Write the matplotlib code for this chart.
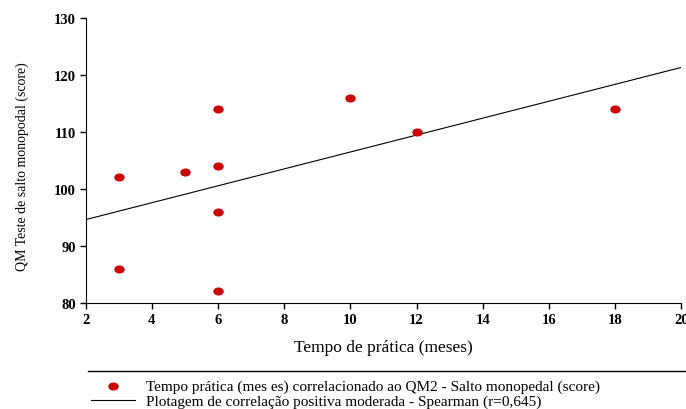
import matplotlib.pyplot as plt
from matplotlib.lines import Line2D
from matplotlib.path import Path
from matplotlib.transforms import Affine2D

plt.rcParams['font.family'] = ['Liberation Serif', 'DejaVu Serif']

meses = [3, 3, 5, 6, 6, 6, 6, 10, 12, 18]  # tempo de pratica
score = [102, 86, 103, 114, 104, 96, 82, 116, 110, 114]
reta_x = [2, 20]  # linha de tendencia
reta_y = [94.6, 121.3]

# marcador um pouco achatado, como no original
elipse = Path.unit_circle().transformed(Affine2D().scale(1.35, 1.0))

fig = plt.figure(figsize=(6.86, 4.10), dpi=100)
ax = fig.add_axes([0.125, 0.259, 0.868, 0.695])

ax.plot(reta_x, reta_y, color='black', linewidth=0.8,
        label='Plotagem de correlação positiva moderada - Spearman (r=0,645)')
ax.scatter(meses, score, color='#cc0000', s=42, marker=elipse, zorder=3,
           label='Tempo prática (mes es) correlacionado ao QM2 - Salto monopedal (score)')

ax.set_xlim(2, 20)
ax.set_ylim(80, 130)
ax.set_xticks(range(2, 21, 2))
ax.set_yticks(range(80, 131, 10))
for lab in ax.get_xticklabels() + ax.get_yticklabels():
    lab.set_fontweight('bold')
    lab.set_fontsize(10.5)
ax.tick_params(direction='out', length=4, width=1, pad=3)
ax.spines['top'].set_visible(False)
ax.spines['right'].set_visible(False)
ax.set_xlabel('Tempo de prática (meses)', fontsize=12.5, labelpad=10)
ax.set_ylabel('QM Teste de salto monopodal (score)', fontsize=10)
ax.yaxis.set_label_coords(-0.095, 0.48)

# legenda embaixo, com linha superior
fig.add_artist(Line2D([88/686, 1], [1-372/410, 1-372/410], color='black', linewidth=1))
h, l = ax.get_legend_handles_labels()
fig.legend([h[1], h[0]], [l[1], l[0]], loc='upper left',
           bbox_to_anchor=(85/686, 1-374/410), frameon=False, fontsize=11,
           handlelength=2.9, labelspacing=0.1, handletextpad=0.7, borderaxespad=0)

fig.savefig('out.png', dpi=100)
